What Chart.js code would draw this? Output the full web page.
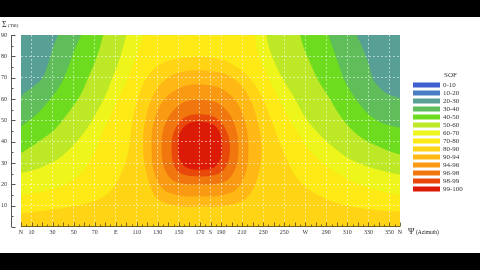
<!DOCTYPE html>
<html>
<head>
<meta charset="utf-8">
<script src="https://cdn.jsdelivr.net/npm/chart.js"></script>
<style>
  body { margin: 0; background: #000; }
  #wrap { position: absolute; left: 0; top: 17px; width: 480px; height: 236px; background: #fff; }
</style>
</head>
<body>
<div id="wrap"><canvas id="sofChart"></canvas></div>
<script>
// SOF classes shown in the legend
var sofLevels = ['0-10', '10-20', '20-30', '30-40', '40-50', '50-60', '60-70',
                 '70-80', '80-90', '90-94', '94-96', '96-98', '98-99', '99-100'];
var levelColors = ['#3d5fcf', '#4a7ec4', '#58a096', '#5fbd5a', '#6ddc1e', '#bde826', '#eef51a',
                   '#fde914', '#ffd414', '#ffb814', '#fa9a12', '#f2760e', '#e8480a', '#dc1a08'];

// azimuth ticks along the bottom
var xTickValues = [0, 10, 30, 50, 70, 90, 110, 130, 150, 170, 180, 190, 210, 230, 250, 270, 290, 310, 330, 350, 360];
var xTickLabels = ['N', '10', '30', '50', '70', 'E', '110', '130', '150', '170', 'S', '190', '210', '230', '250', 'W', '290', '310', '330', '350', 'N'];

// contour regions [azimuth, tilt], each one = area where SOF >= its class start
var sof20 = [[-10, -10], [-10, 95], [370, 95], [370, -10]];
var sof30 = [[-10, -10], [-10, 60], [0, 61.4], [4, 63], [12, 66], [19.6, 69.2], [26, 77], [30.7, 84.9], [35, 90], [37, 95],
             [317, 95], [319, 90], [323.6, 85], [330, 77], [334.7, 69], [339.5, 66], [345.8, 63], [353.7, 61.3], [360, 60.5], [370, 60], [370, -10]];
var sof40 = [[-10, -10], [-10, 46], [0, 47.2], [5, 49], [13, 52], [21, 56], [30, 61.4], [36, 65.5], [40, 69], [46.5, 77], [50, 82], [53.5, 86], [57, 90], [59, 95],
             [290, 95], [292, 90], [297, 83], [302, 75.5], [308, 68], [316, 61.4], [325, 55.5], [335, 51], [347, 48], [360, 46.5], [370, 46], [370, -10]];
var sof50 = [[-10, -10], [-10, 33.5], [0, 34.7], [10, 37.8], [21, 41.5], [32, 45.7], [44, 53], [56, 61.4], [63, 69], [70, 77], [74.5, 83.5], [78, 90], [80, 95],
             [263, 95], [265, 90], [269, 83.5], [274.6, 77], [282, 69], [291.7, 61.4], [302, 53], [314, 45.7], [326, 41], [339, 37.8], [350, 35.5], [360, 34], [370, 33.5], [370, -10]];
var sof60 = [[-10, -10], [-10, 24.5], [0, 25.3], [13, 26.8], [26, 29.5], [38.6, 33.1], [50, 38.5], [62, 45.7], [71, 53], [80, 61.4], [86, 69], [92.5, 77], [96.5, 83.5], [100, 90], [102, 95],
             [231, 95], [233, 90], [236, 83.5], [241, 77], [249, 69], [258.7, 61.4], [268, 53], [279, 45.7], [293, 39], [308, 33.1], [323, 29.5], [339, 26.8], [350, 25.5], [360, 24.5], [370, 24], [370, -10]];
var sof70 = [[-10, -10], [-10, 14.5], [0, 15], [20, 16.5], [38, 19], [52, 23], [63, 29], [71, 36.5], [78, 45], [86, 53], [93, 61], [100, 68], [106, 75], [111, 82], [116, 90], [118, 95],
             [220, 95], [222, 90], [225, 82], [232, 73], [242, 63], [252, 53], [263, 44], [276, 35], [292, 28], [310, 22.5], [330, 18.5], [345, 16.5], [360, 15], [370, 14.5], [370, -10]];
var sof80 = [[-10, -10], [-10, 6.2], [0, 6.5], [15, 7.3], [30, 8.2], [45, 9.3], [58, 10.4], [72, 12.5], [83, 15.9], [90, 20], [95, 25], [99, 30], [102, 36], [104, 43], [106, 50],
             [109, 57], [113, 63], [118, 69], [125, 73.5], [133, 76.5], [143, 78.3], [155, 79.3], [167, 79.7], [180, 79.5], [193, 78], [203, 75.5], [213, 72], [221, 67.5],
             [228.5, 61.4], [235, 53.5], [241, 45.7], [247, 38], [253, 31], [260, 24.5], [270, 19], [285, 14.2], [301, 11.1], [320, 9], [340, 7.8], [360, 7.2], [370, 7], [370, -10]];
var sof90 = [[170, 73.5], [195, 71.5], [213, 64], [224, 51], [228.5, 37], [225, 23.5], [214, 13.5], [193, 9.9], [170, 9.5], [148, 9.9], [129, 13.5], [120, 23.5],
             [116, 37], [118.5, 51], [128, 64], [145, 71.5], [170, 73.5], [195, 71.5]];
var sof94 = [[170, 66.9], [190, 65], [205, 58.5], [213.5, 48], [216, 37], [213.5, 25.5], [204, 17.3], [188.5, 14.7], [170, 14.3], [151.5, 14.7], [136, 17.3], [126.5, 25.5],
             [124, 37], [125.5, 48], [134, 58.5], [150, 65], [170, 66.9], [190, 65]];
var sof96 = [[170, 59.8], [186, 58.4], [198, 53], [204.5, 45.5], [206.5, 37], [204.5, 28.5], [197, 22.3], [184.5, 20.2], [170, 19.8], [155.5, 20.2], [143, 22.3], [135.5, 28.5],
             [133.6, 37], [135, 45.5], [142, 53], [154, 58.4], [170, 59.8], [186, 58.4]];
var sof98 = [[170, 52.8], [183, 51.8], [192, 47.8], [197, 42.5], [198.5, 37], [197, 31], [191.5, 26.3], [181.5, 24.1], [170, 23.7], [158.5, 24.1], [148.5, 26.3], [144, 31],
             [143, 37], [144, 42.5], [148.5, 47.8], [157, 51.8], [170, 52.8], [183, 51.8]];
var sof99 = [[170, 49.5], [180, 48.7], [187, 45.8], [190.5, 41.5], [191, 37], [189.5, 32], [185, 28.6], [178, 27.1], [170, 26.8], [162, 27.1], [155, 28.6], [150.5, 32],
             [149, 37], [149.5, 41.5], [153, 45.8], [160, 48.7], [170, 49.5], [180, 48.7]];

var contourBands = [sof20, sof30, sof40, sof50, sof60, sof70, sof80, sof90, sof94, sof96, sof98, sof99];
var bandLevel = [2, 3, 4, 5, 6, 7, 8, 9, 10, 11, 12, 13];

var serif = '"Liberation Serif", "DejaVu Serif", serif';

// axis line off to the left, small tick marks, titles and the SOF legend
var decorations = {
    id: 'decorations',
    afterDraw: function (chart) {
        var ctx = chart.ctx;
        var area = chart.chartArea;
        var x = chart.scales.x, y = chart.scales.y;
        ctx.save();

        // y axis line sits 10px left of the plot
        var axisX = Math.round(area.left - 10) + 0.5;
        ctx.strokeStyle = '#555';
        ctx.lineWidth = 1;
        ctx.beginPath();
        ctx.moveTo(axisX, area.top);
        ctx.lineTo(axisX, area.bottom);
        for (var v = 0; v <= 90; v += 5) {
            var py = Math.round(y.getPixelForValue(v)) + 0.5;
            ctx.moveTo(axisX, py);
            ctx.lineTo(axisX + (v % 10 === 0 ? 4 : 2), py);
        }
        ctx.stroke();

        // x tick marks inside the bottom of the plot
        ctx.strokeStyle = 'rgba(95, 80, 30, 0.85)';
        ctx.beginPath();
        var by = Math.round(area.bottom) - 0.5;
        ctx.moveTo(area.left, by);
        ctx.lineTo(area.right, by);
        for (var a = 0; a <= 360; a += 5) {
            var px = Math.round(x.getPixelForValue(a)) + 0.5;
            ctx.moveTo(px, by);
            ctx.lineTo(px, by - (a % 10 === 0 ? 4 : 2));
        }
        ctx.stroke();

        // axis titles
        ctx.fillStyle = '#222';
        ctx.textBaseline = 'middle';
        ctx.textAlign = 'left';
        ctx.font = '8px ' + serif;
        ctx.fillText('\u03A3', 2, 8);
        ctx.font = '5px ' + serif;
        ctx.fillText('(Till)', 8, 9);
        ctx.font = '8.5px ' + serif;
        ctx.fillText('\u03A8', area.right + 8, area.bottom + 5);
        ctx.font = '5.5px ' + serif;
        ctx.fillText('(Azimuth)', area.right + 16, area.bottom + 6);

        // legend
        var lx = area.right + 13;
        ctx.font = '7px ' + serif;
        ctx.fillStyle = '#333';
        ctx.fillText('SOF', lx + 31, 58);
        sofLevels.forEach(function (label, i) {
            var cy = 68 + i * 8;
            ctx.fillStyle = levelColors[i];
            ctx.fillRect(lx, cy - 2.5, 27, 5);
            ctx.fillStyle = '#333';
            ctx.fillText(label, lx + 30, cy);
        });
        ctx.restore();
    }
};

var gridColor = 'rgba(255, 255, 255, 0.5)';

new Chart(document.getElementById('sofChart').getContext('2d'), {
    type: 'scatter',
    data: {
        datasets: contourBands.map(function (band, i) {
            return {
                label: sofLevels[bandLevel[i]],
                data: band.map(function (p) { return {x: p[0], y: p[1]}; }),
                showLine: true,
                fill: 'shape',
                backgroundColor: levelColors[bandLevel[i]],
                borderWidth: 0,
                pointRadius: 0,
                pointHoverRadius: 0,
                tension: 0.35,
                capBezierPoints: false,
                order: -i
            };
        })
    },
    options: {
        responsive: true,
        maintainAspectRatio: false,
        animation: false,
        events: [],
        layout: { padding: { left: 0, right: 80, top: 18, bottom: 0 } },
        plugins: {
            legend: { display: false },
            tooltip: { enabled: false }
        },
        scales: {
            x: {
                type: 'linear',
                min: 0,
                max: 360,
                afterBuildTicks: function (scale) {
                    scale.ticks = xTickValues.map(function (v) { return {value: v}; });
                },
                afterFit: function (scale) { scale.height = 26; },
                grid: {
                    drawTicks: false,
                    z: 1,
                    color: function (c) {
                        return (c.tick && (c.tick.value === 0 || c.tick.value === 360)) ? 'rgba(0,0,0,0)' : gridColor;
                    }
                },
                border: { display: false, dash: [2, 2] },
                ticks: {
                    autoSkip: false,
                    maxRotation: 0,
                    padding: 2,
                    color: '#333',
                    font: { family: serif, size: 6 },
                    callback: function (value, index) { return xTickLabels[index]; }
                }
            },
            y: {
                min: 0,
                max: 90,
                afterFit: function (scale) { scale.width = 21; },
                grid: {
                    drawTicks: false,
                    z: 1,
                    color: function (c) {
                        return (c.tick && (c.tick.value === 0 || c.tick.value === 90)) ? 'rgba(0,0,0,0)' : gridColor;
                    }
                },
                border: { display: false, dash: [2, 2] },
                ticks: {
                    stepSize: 10,
                    padding: 14,
                    color: '#333',
                    font: { family: serif, size: 6 },
                    callback: function (value) { return value === 0 ? '' : value; }
                }
            }
        }
    },
    plugins: [decorations]
});
</script>
</body>
</html>
